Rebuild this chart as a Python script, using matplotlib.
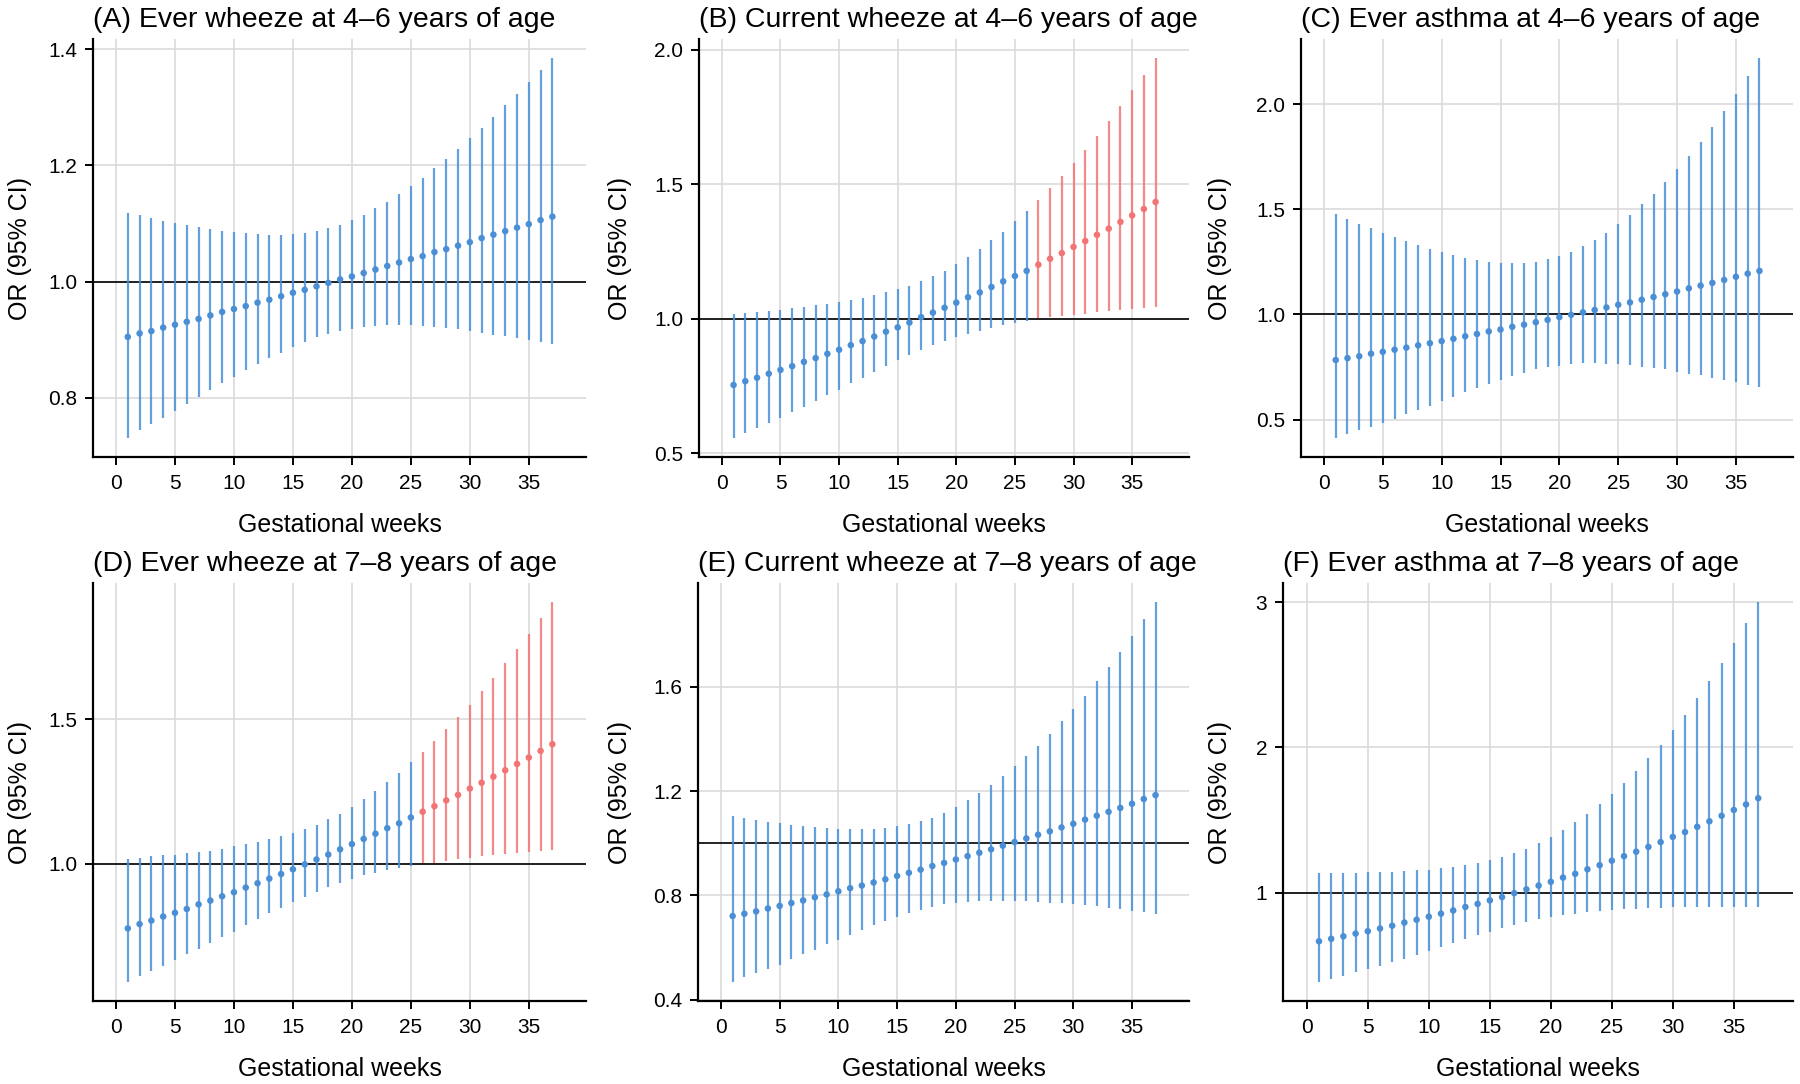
import numpy as np
import matplotlib
matplotlib.use("Agg")
import matplotlib.pyplot as plt

plt.rcParams["font.family"] = ["Liberation Sans", "DejaVu Sans"]

# Gestational weeks
weeks = list(range(1, 38))

# (A) Ever wheeze at 4-6 years
A_or = [0.905, 0.911, 0.915, 0.921, 0.926, 0.931, 0.936, 0.942, 0.948, 0.953, 0.958, 0.964, 0.969, 0.975, 0.981, 0.986, 0.992, 0.998, 1.004, 1.009, 1.015, 1.021, 1.027, 1.033, 1.039, 1.044, 1.051, 1.056, 1.062, 1.068, 1.075, 1.081, 1.087, 1.093, 1.099, 1.106, 1.112]
A_lo = [0.731, 0.744, 0.755, 0.766, 0.778, 0.790, 0.801, 0.814, 0.825, 0.836, 0.848, 0.858, 0.869, 0.878, 0.888, 0.896, 0.904, 0.910, 0.915, 0.919, 0.922, 0.924, 0.925, 0.925, 0.925, 0.924, 0.922, 0.920, 0.918, 0.915, 0.912, 0.909, 0.906, 0.903, 0.899, 0.896, 0.892]
A_hi = [1.118, 1.114, 1.109, 1.105, 1.101, 1.097, 1.094, 1.091, 1.088, 1.085, 1.083, 1.082, 1.081, 1.081, 1.082, 1.084, 1.087, 1.092, 1.098, 1.106, 1.115, 1.126, 1.138, 1.151, 1.165, 1.179, 1.195, 1.212, 1.228, 1.247, 1.265, 1.284, 1.304, 1.323, 1.344, 1.365, 1.385]

# (B) Current wheeze at 4-6 years
B_or = [0.754, 0.768, 0.781, 0.796, 0.810, 0.824, 0.840, 0.854, 0.870, 0.885, 0.902, 0.917, 0.934, 0.952, 0.968, 0.986, 1.006, 1.023, 1.041, 1.060, 1.080, 1.098, 1.118, 1.139, 1.159, 1.178, 1.201, 1.223, 1.244, 1.267, 1.289, 1.312, 1.335, 1.360, 1.384, 1.408, 1.434]
B_lo = [0.557, 0.576, 0.593, 0.612, 0.631, 0.654, 0.673, 0.695, 0.716, 0.737, 0.760, 0.781, 0.803, 0.824, 0.845, 0.866, 0.885, 0.902, 0.917, 0.931, 0.945, 0.955, 0.966, 0.976, 0.983, 0.990, 1.002, 1.005, 1.009, 1.015, 1.019, 1.024, 1.028, 1.032, 1.036, 1.041, 1.045]
B_hi = [1.017, 1.022, 1.025, 1.029, 1.033, 1.039, 1.045, 1.050, 1.055, 1.061, 1.069, 1.079, 1.088, 1.098, 1.111, 1.123, 1.140, 1.159, 1.178, 1.202, 1.229, 1.260, 1.291, 1.324, 1.363, 1.401, 1.441, 1.486, 1.532, 1.579, 1.627, 1.678, 1.734, 1.791, 1.849, 1.907, 1.969]

# (C) Ever asthma at 4-6 years
C_or = [0.783, 0.792, 0.801, 0.813, 0.822, 0.832, 0.842, 0.853, 0.863, 0.873, 0.884, 0.896, 0.907, 0.919, 0.928, 0.941, 0.951, 0.963, 0.974, 0.987, 0.998, 1.010, 1.021, 1.033, 1.046, 1.057, 1.070, 1.083, 1.096, 1.109, 1.124, 1.137, 1.150, 1.164, 1.179, 1.194, 1.207]
C_lo = [0.412, 0.430, 0.450, 0.466, 0.485, 0.503, 0.526, 0.546, 0.565, 0.586, 0.607, 0.630, 0.648, 0.669, 0.689, 0.707, 0.723, 0.738, 0.749, 0.756, 0.762, 0.767, 0.767, 0.765, 0.762, 0.759, 0.752, 0.746, 0.738, 0.726, 0.718, 0.710, 0.699, 0.687, 0.678, 0.666, 0.653]
C_hi = [1.479, 1.456, 1.432, 1.410, 1.389, 1.368, 1.350, 1.331, 1.313, 1.296, 1.282, 1.270, 1.261, 1.251, 1.246, 1.243, 1.244, 1.251, 1.264, 1.278, 1.296, 1.326, 1.355, 1.389, 1.430, 1.474, 1.523, 1.575, 1.632, 1.691, 1.756, 1.821, 1.894, 1.967, 2.049, 2.132, 2.220]

# (D) Ever wheeze at 7-8 years
D_or = [0.777, 0.792, 0.804, 0.818, 0.831, 0.844, 0.860, 0.873, 0.888, 0.902, 0.918, 0.933, 0.949, 0.965, 0.981, 0.998, 1.015, 1.032, 1.050, 1.068, 1.086, 1.104, 1.123, 1.140, 1.160, 1.180, 1.199, 1.219, 1.238, 1.260, 1.280, 1.301, 1.323, 1.345, 1.367, 1.390, 1.413]
D_lo = [0.592, 0.611, 0.629, 0.646, 0.667, 0.687, 0.706, 0.727, 0.746, 0.765, 0.788, 0.808, 0.830, 0.849, 0.868, 0.887, 0.904, 0.920, 0.935, 0.949, 0.960, 0.969, 0.979, 0.987, 0.994, 1.002, 1.004, 1.010, 1.015, 1.020, 1.026, 1.030, 1.035, 1.038, 1.040, 1.045, 1.049]
D_hi = [1.018, 1.021, 1.026, 1.029, 1.032, 1.037, 1.042, 1.046, 1.052, 1.060, 1.067, 1.075, 1.085, 1.095, 1.107, 1.120, 1.135, 1.155, 1.173, 1.196, 1.223, 1.251, 1.282, 1.315, 1.351, 1.387, 1.425, 1.464, 1.506, 1.550, 1.595, 1.642, 1.692, 1.742, 1.794, 1.848, 1.904]

# (E) Current wheeze at 7-8 years
E_or = [0.721, 0.730, 0.739, 0.750, 0.760, 0.771, 0.781, 0.793, 0.804, 0.816, 0.828, 0.838, 0.850, 0.862, 0.875, 0.887, 0.899, 0.913, 0.925, 0.938, 0.951, 0.964, 0.977, 0.991, 1.005, 1.019, 1.033, 1.046, 1.061, 1.075, 1.091, 1.106, 1.121, 1.136, 1.152, 1.170, 1.185]
E_lo = [0.468, 0.486, 0.502, 0.519, 0.535, 0.555, 0.574, 0.591, 0.612, 0.628, 0.649, 0.668, 0.686, 0.702, 0.719, 0.732, 0.746, 0.756, 0.766, 0.772, 0.775, 0.777, 0.779, 0.779, 0.777, 0.777, 0.775, 0.772, 0.770, 0.766, 0.762, 0.758, 0.752, 0.747, 0.740, 0.735, 0.730]
E_hi = [1.103, 1.098, 1.090, 1.083, 1.077, 1.072, 1.066, 1.062, 1.058, 1.056, 1.054, 1.054, 1.056, 1.060, 1.066, 1.074, 1.085, 1.099, 1.118, 1.140, 1.167, 1.193, 1.225, 1.258, 1.295, 1.334, 1.375, 1.421, 1.468, 1.517, 1.567, 1.623, 1.678, 1.736, 1.797, 1.860, 1.926]

# (F) Ever asthma at 7-8 years
F_or = [0.667, 0.684, 0.701, 0.720, 0.736, 0.755, 0.774, 0.796, 0.815, 0.836, 0.857, 0.879, 0.903, 0.924, 0.948, 0.971, 0.998, 1.024, 1.050, 1.076, 1.105, 1.131, 1.162, 1.190, 1.221, 1.252, 1.283, 1.316, 1.349, 1.385, 1.418, 1.454, 1.492, 1.530, 1.570, 1.608, 1.651]
F_lo = [0.387, 0.406, 0.430, 0.454, 0.475, 0.496, 0.523, 0.546, 0.572, 0.601, 0.625, 0.656, 0.682, 0.708, 0.732, 0.758, 0.781, 0.800, 0.817, 0.834, 0.846, 0.857, 0.865, 0.872, 0.879, 0.886, 0.891, 0.895, 0.898, 0.900, 0.903, 0.903, 0.903, 0.903, 0.903, 0.903, 0.903]
F_hi = [1.138, 1.138, 1.138, 1.138, 1.140, 1.143, 1.145, 1.150, 1.154, 1.159, 1.169, 1.178, 1.190, 1.204, 1.226, 1.247, 1.273, 1.304, 1.344, 1.387, 1.432, 1.485, 1.544, 1.610, 1.682, 1.758, 1.841, 1.926, 2.019, 2.119, 2.223, 2.337, 2.458, 2.580, 2.715, 2.857, 3.000]

titles = ["(A) Ever wheeze at 4\u20136 years of age",
          "(B) Current wheeze at 4\u20136 years of age",
          "(C) Ever asthma at 4\u20136 years of age",
          "(D) Ever wheeze at 7\u20138 years of age",
          "(E) Current wheeze at 7\u20138 years of age",
          "(F) Ever asthma at 7\u20138 years of age"]
yticks = [[0.8, 1.0, 1.2, 1.4],
          [0.5, 1.0, 1.5, 2.0],
          [0.5, 1.0, 1.5, 2.0],
          [1.0, 1.5],
          [0.4, 0.8, 1.2, 1.6],
          [1, 2, 3]]
ytick_fmt = ["%.1f", "%.1f", "%.1f", "%.1f", "%.1f", "%d"]
xticks = [0, 5, 10, 15, 20, 25, 30, 35]

panels = [(A_or, A_lo, A_hi), (B_or, B_lo, B_hi), (C_or, C_lo, C_hi),
          (D_or, D_lo, D_hi), (E_or, E_lo, E_hi), (F_or, F_lo, F_hi)]

blue = "#4a8fd6"
red = "#f27474"
grid_col = "#dadada"

W, H = 1800, 1084
fig = plt.figure(figsize=(W / 100, H / 100), dpi=100)

# panel boxes in pixels: left, right, top, bottom
col_l = [[93, 699, 1301], [93, 698, 1283]]
col_r = [586, 1189, 1793]
row_t = [39, 583]
row_b = [457, 1001]
col_start = [0, 600, 1200]

for i, (est, lo, hi) in enumerate(panels):
    r, c = divmod(i, 3)
    l, rr = col_l[r][c], col_r[c]
    t, b = row_t[r], row_b[r]
    ax = fig.add_axes([l / W, 1 - b / H, (rr - l) / W, (b - t) / H])

    est = np.array(est)
    lo = np.array(lo)
    hi = np.array(hi)
    wk = np.array(weeks)
    sig = lo > 1.0
    cols = np.where(sig, red, blue)

    ax.vlines(wk, lo, hi, colors=cols, linewidth=1.6, alpha=0.85, zorder=3)
    ax.scatter(wk, est, s=22, c=cols, zorder=4, linewidths=0)
    ax.axhline(1.0, color="black", linewidth=1.2, zorder=2)

    ax.margins(y=0.05)
    ax.set_xlim(-1.95, 39.85)
    ax.set_xticks(xticks)
    ax.set_yticks(yticks[i])
    ax.yaxis.set_major_formatter(matplotlib.ticker.FormatStrFormatter(ytick_fmt[i]))
    ax.grid(True, color=grid_col, linewidth=1.2, zorder=0)
    ax.set_axisbelow(True)

    for s in ["top", "right"]:
        ax.spines[s].set_visible(False)
    for s in ["left", "bottom"]:
        ax.spines[s].set_linewidth(1.6)
    ax.tick_params(length=5.5, width=1.4, labelsize=15, pad=6, colors="black")
    ax.tick_params(axis="x", pad=7)

    ax.set_title(titles[i], loc="left", fontsize=20.5, pad=8.5)
    ax.set_xlabel("Gestational weeks", fontsize=18, va="center")
    ax.xaxis.set_label_coords(((l + rr) / 2) / W, 1 - (b + 68) / H, transform=fig.transFigure)
    ax.set_ylabel("OR (95% CI)", fontsize=18, va="center")
    ax.yaxis.set_label_coords((col_start[c] + 20) / W, 1 - ((t + b) / 2) / H, transform=fig.transFigure)

fig.savefig("out.png", dpi=100)
